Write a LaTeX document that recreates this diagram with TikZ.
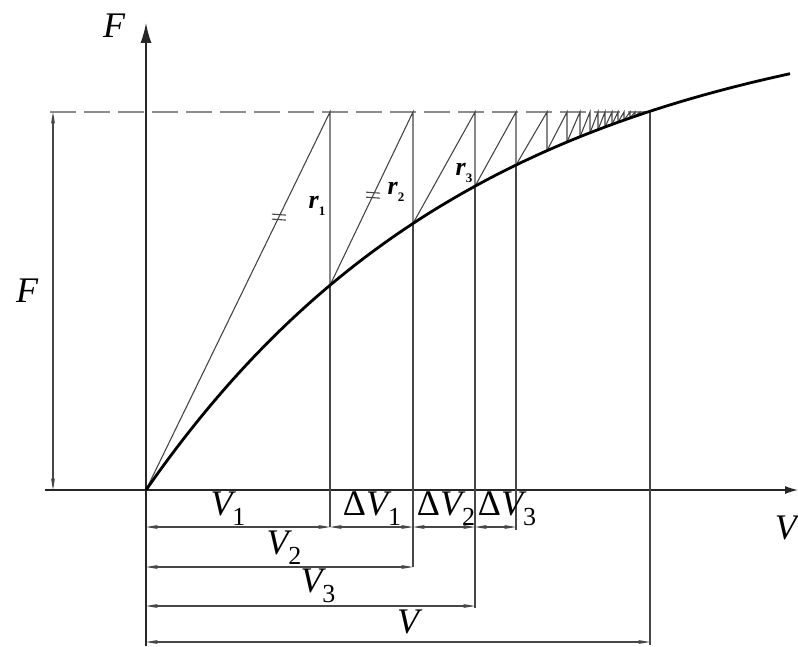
\documentclass[tikz,border=0pt]{standalone}
\usepackage{fontspec}
\setmainfont{Liberation Serif}
\usetikzlibrary{arrows.meta,calc}
\newcommand\sbs[1]{\raisebox{-0.28em}{\fontsize{26}{26}\selectfont\upshape #1}}
\newcommand\rsb[1]{\raisebox{-0.25em}{\fontsize{13}{13}\selectfont\bfseries\upshape #1}}
\begin{document}
\begin{tikzpicture}[x=1pt,y=1pt,
  declare function={ff(\t)=490*(1-exp(-\t/340));},
  thinl/.style={line width=1.1pt, draw=black!72},
  axisl/.style={line width=1.4pt, draw=black!85},
  curvel/.style={line width=2.8pt, draw=black},
  dim/.style={thinl, {Stealth[length=12pt,width=4pt]}-{Stealth[length=12pt,width=4pt]}},
  dashl/.style={line width=1.6pt, draw=black!45, dash pattern=on 26pt off 8pt},
  lbl/.style={font=\fontsize{36}{36}\selectfont\itshape, inner sep=0pt},
  rlbl/.style={font=\fontsize{26}{26}\selectfont\bfseries\itshape, inner sep=0pt}]
\useasboundingbox (-146,-156) rectangle (652,490);
% axes
\coordinate (O) at (0,0);
\coordinate (Ytop) at (0,467);
\coordinate (Ybot) at (0,-156);
\coordinate (Xl) at (-101,0);
\coordinate (Xr) at (652,0);
\draw[axisl] (Ybot) -- (O);
\draw[axisl,-{Latex[length=20pt,width=11pt]}] (O) -- (Ytop);
\draw[axisl,-{Latex[length=13pt,width=8pt]}] (Xl) -- (Xr);
% dashed level line
\coordinate (Dl) at (-96,378);
\coordinate (Dr) at (504,378);
\draw[dashl] (Dl) -- (Dr);
% F dimension
\coordinate (Fb) at (-93,0);
\coordinate (Ft) at (-93,378);
\draw[dim] (Fb) -- (Ft);
% sawtooth
\foreach \a/\b in {0/184,184/267,267/329,329/370,370/401,401/421,421/434,434/444,444/452,452/459,459/466,466/472,472/478,478/484,484/489,489/494,494/498,498/501,501/503,503/504}{
  \draw[thinl] (\a,{ff(\a)}) -- (\b,378) -- (\b,{ff(\b)});
}
% extension lines
\foreach \b/\e in {184/-37,267/-77,329/-118,370/-40,504/-155}{
  \draw[thinl] (\b,{ff(\b)}) -- (\b,\e);
}
% curve
\draw[curvel] plot[domain=0:644,samples=120,smooth] (\x,{ff(\x)});
% parallel marks
\coordinate (P1) at (184,378);
\coordinate (C1) at (184,{ff(184)});
\coordinate (P2) at (267,378);
\coordinate (m1) at ($(O)!0.722!(P1)$);
\coordinate (m2) at ($(C1)!0.52!(P2)$);
\foreach \m in {m1,m2}{
  \draw[thinl] ($(\m)+(-7,3)$) -- ($(\m)+(7,2)$);
  \draw[thinl] ($(\m)+(-7,-2)$) -- ($(\m)+(7,-3)$);
}
% dimension lines
\draw[dim] (0,-37) -- (184,-37);
\draw[dim] (184,-37) -- (267,-37);
\draw[dim] (267,-37) -- (329,-37);
\draw[dim] (329,-37) -- (370,-37);
\draw[dim] (0,-77) -- (267,-77);
\draw[dim] (0,-116) -- (329,-116);
\draw[dim] (0,-152) -- (504,-152);
% labels
\node[lbl] (lv1) at (82,-19) {V\sbs{1}};
\node[lbl] (ldv1) at (226,-19) {{\upshape Δ}V\sbs{1}};
\node[lbl] (ldv2) at (300,-19) {{\upshape Δ}V\sbs{2}};
\node[lbl] (ldv3) at (361,-19) {{\upshape Δ}V\sbs{3}};
\node[lbl] (lv2) at (138,-58) {V\sbs{2}};
\node[lbl] (lv3) at (172,-96) {V\sbs{3}};
\node[lbl] (lv) at (262,-132) {V};
\node[lbl] (lft) at (-32,464) {F};
\node[lbl] (lfl) at (-119,199) {F};
\node[lbl,anchor=east] (lvr) at (651,-38) {V};
\node[rlbl] (r1) at (171,284) {r\rsb{1}};
\node[rlbl] (r2) at (250,298) {r\rsb{2}};
\node[rlbl] (r3) at (318,317) {r\rsb{3}};
\end{tikzpicture}
\end{document}
